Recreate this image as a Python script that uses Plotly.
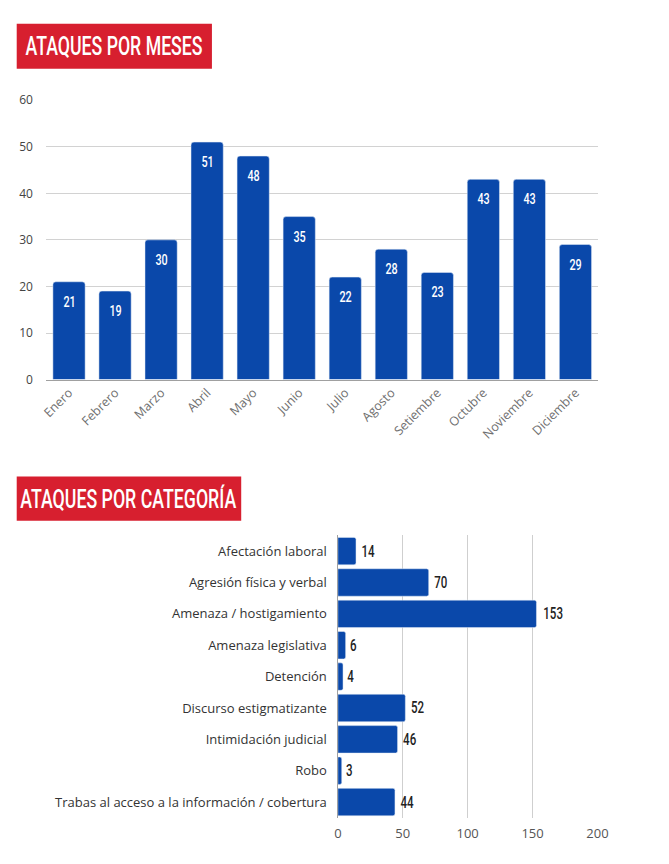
import plotly.graph_objects as go

# Monthly attacks
meses = ["Enero", "Febrero", "Marzo", "Abril", "Mayo", "Junio", "Julio",
         "Agosto", "Setiembre", "Octubre", "Noviembre", "Diciembre"]
ataques_mes = [21, 19, 30, 51, 48, 35, 22, 28, 23, 43, 43, 29]

# Attacks by category
categorias = ["Afectación laboral", "Agresión física y verbal", "Amenaza / hostigamiento",
              "Amenaza legislativa", "Detención", "Discurso estigmatizante",
              "Intimidación judicial", "Robo",
              "Trabas al acceso a la información / cobertura"]
ataques_cat = [14, 70, 153, 6, 4, 52, 46, 3, 44]

W, H = 669, 864
BLUE = "#0a48aa"
RED = "#d71f2f"
COND = "Roboto, Liberation Sans, sans-serif"
BODY = "Open Sans, Noto Sans, sans-serif"


def px_x(p):
    return p / W


def px_y(p):
    return 1 - p / H


fig = go.Figure()

fig.add_trace(go.Bar(
    x=meses, y=ataques_mes, marker=dict(color=BLUE, cornerradius=3),
    xaxis="x", yaxis="y", hoverinfo="x+y", showlegend=False,
))

fig.add_trace(go.Bar(
    y=categorias, x=ataques_cat, orientation="h", width=0.875,
    marker=dict(color=BLUE, cornerradius=2),
    text=[str(v) for v in ataques_cat], textposition="outside",
    textfont=dict(family=COND, size=16, color="#222222", weight=500),
    cliponaxis=False,
    xaxis="x2", yaxis="y2", hoverinfo="x+y", showlegend=False,
))

annotations = []
# value labels near the top of each monthly bar
for m, v in zip(meses, ataques_mes):
    annotations.append(dict(
        x=m, y=v, xref="x", yref="y", text=str(v), showarrow=False,
        yshift=-20, font=dict(family=COND, size=15, color="white", weight=500),
    ))

# section headers: red banners with white condensed captions
shapes = []
for (x0, y0, x1, y1, label) in [(12, 15, 212, 61, "ATAQUES POR MESES"),
                                (12, 477, 242, 522, "ATAQUES POR CATEGORÍA")]:
    shapes.append(dict(type="rect", xref="paper", yref="paper",
                       x0=px_x(x0), x1=px_x(x1), y0=px_y(y1), y1=px_y(y0),
                       fillcolor=RED, line=dict(width=0), layer="below"))
    annotations.append(dict(
        x=px_x((x0 + x1) / 2), y=px_y((y0 + y1) / 2), xref="paper", yref="paper",
        text=label, showarrow=False, xanchor="center", yanchor="middle",
        font=dict(family=COND, size=26, color="white", weight=500),
    ))

fig.update_layout(
    width=W, height=H, margin=dict(l=0, r=0, t=0, b=0),
    paper_bgcolor="white", plot_bgcolor="white",
    bargap=0.3,
    font=dict(family=BODY, color="#555555"),
    xaxis=dict(domain=[px_x(42), px_x(608)], anchor="y", tickangle=-45,
               tickfont=dict(family=BODY, size=12.5, color="#707070"),
               showgrid=False, showline=True, linecolor="#a0a0a0", linewidth=1,
               ticks=""),
    yaxis=dict(domain=[px_y(378), px_y(93)], anchor="x", range=[0, 60],
               dtick=10, showgrid=True, gridcolor="#d2d2d2", gridwidth=1,
               zeroline=False, ticks="", ticklabelstandoff=12,
               tickfont=dict(family=BODY, size=12, color="#444444")),
    xaxis2=dict(domain=[px_x(341), px_x(607)], anchor="y2", range=[0, 200],
                dtick=50, showgrid=True, gridcolor="#cfcfcf", gridwidth=1,
                zeroline=True, zerolinecolor="#a0a0a0", zerolinewidth=1,
                ticks="", ticklabelstandoff=6,
                tickfont=dict(family=BODY, size=13, color="#555555")),
    yaxis2=dict(domain=[px_y(825), px_y(537)], anchor="x2", autorange="reversed",
                ticks="", ticklabelstandoff=10, showgrid=False,
                tickfont=dict(family=BODY, size=13, color="#333333")),
    annotations=annotations,
    shapes=shapes,
)

# Page without body margin; captions and value labels drawn in a narrow face
narrow_js = """
document.body.style.margin = '0';
var widths = {'ATAQUES POR MESES': 177, 'ATAQUES POR CATEGORÍA': 216};
document.querySelectorAll('g.annotation text, text.bartext').forEach(function (t) {
    var s = t.textContent.trim();
    var len = t.getComputedTextLength();
    var target = widths[s] !== undefined ? widths[s] : (/^[0-9]+$/.test(s) ? len * 0.72 : null);
    if (target !== null) {
        t.setAttribute('textLength', target);
        t.setAttribute('lengthAdjust', 'spacingAndGlyphs');
    }
});
"""

fig.write_html("out.html", post_script=narrow_js)
